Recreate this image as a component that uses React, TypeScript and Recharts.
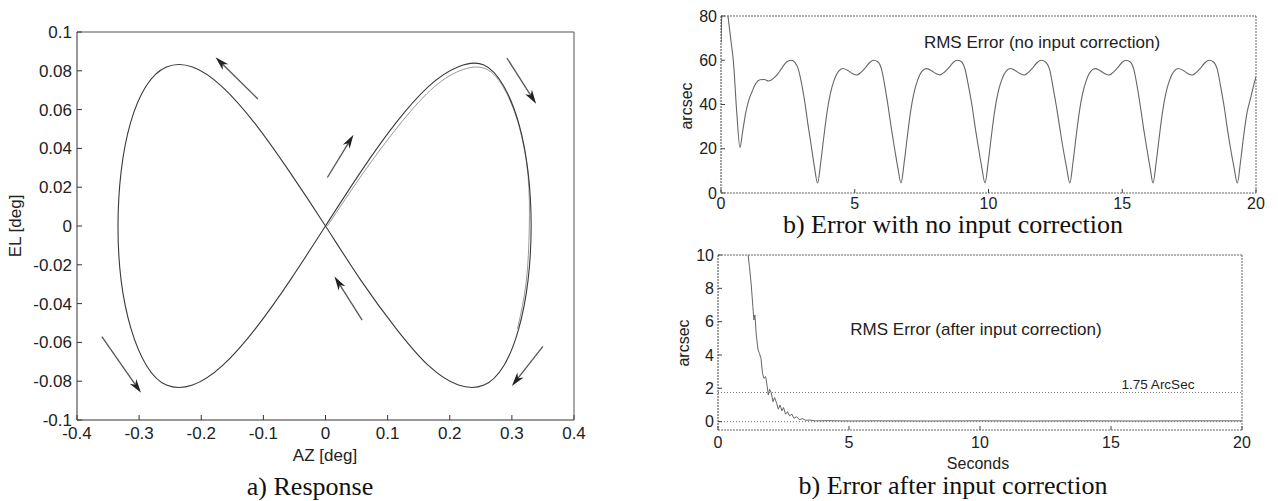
import React from 'react';
import { LineChart, Line, XAxis, YAxis, ReferenceLine } from 'recharts';

// a) Response: figure-eight path, AZ vs EL [deg]
const azPath = [
  0.0, 0.057, 0.113, 0.166, 0.213, 0.255, 0.287, 0.311, 0.326, 0.331,
  0.326, 0.311, 0.287, 0.255, 0.214, 0.166, 0.114, 0.057, 0.0,
  -0.058, -0.114, -0.167, -0.214, -0.256, -0.289, -0.314, -0.329, -0.334,
  -0.329, -0.313, -0.288, -0.256, -0.214, -0.166, -0.113, -0.057, 0.0,
];
const elPath = [
  0.0, 0.028, 0.053, 0.072, 0.082, 0.083, 0.072, 0.053, 0.028, 0.0,
  -0.028, -0.053, -0.072, -0.082, -0.082, -0.072, -0.053, -0.028, 0.0,
  0.028, 0.053, 0.072, 0.082, 0.082, 0.072, 0.053, 0.028, 0.0,
  -0.028, -0.053, -0.072, -0.082, -0.082, -0.072, -0.053, -0.028, 0.0,
];
// second pass over the right lobe (slightly off the first one)
const azPass2 = [0.003, 0.06, 0.116, 0.169, 0.216, 0.258, 0.289, 0.312, 0.326, 0.328, 0.323, 0.309];
const elPass2 = [0.0, 0.027, 0.051, 0.07, 0.08, 0.081, 0.07, 0.051, 0.026, -0.001, -0.029, -0.053];

const azTicks = [-0.4, -0.3, -0.2, -0.1, 0, 0.1, 0.2, 0.3, 0.4];
const elTicks = [-0.1, -0.08, -0.06, -0.04, -0.02, 0, 0.02, 0.04, 0.06, 0.08, 0.1];

// direction arrows, tail -> head
const arrowTails = [[-0.109, 0.0655], [0.003, 0.025], [0.292, 0.0866], [0.35, -0.062], [0.059, -0.0485], [-0.36, -0.057]];
const arrowHeads = [[-0.177, 0.087], [0.045, 0.047], [0.339, 0.063], [0.3, -0.0825], [0.0145, -0.026], [-0.297, -0.086]];

// b) Error with no input correction
const tNoCorr = [
  0, 0.04, 0.2, 0.3, 0.38, 0.46, 0.58, 0.71, 0.8, 0.92, 1.04, 1.15, 1.3, 1.46, 1.62, 1.78, 1.96, 2.1, 2.25, 2.45, 2.62, 2.76, 2.89, 3.02, 3.14, 3.25, 3.36, 3.49,
  3.61, 3.73, 3.85, 3.97, 4.09, 4.23, 4.39, 4.56, 4.73, 4.91, 5.07, 5.23, 5.39, 5.56, 5.71, 5.86, 6.01, 6.13, 6.25, 6.37, 6.49, 6.61,
  6.73, 6.85, 6.97, 7.09, 7.21, 7.35, 7.51, 7.68, 7.85, 8.03, 8.19, 8.35, 8.51, 8.68, 8.83, 8.98, 9.13, 9.25, 9.39, 9.51, 9.63, 9.75,
  9.87, 9.99, 10.11, 10.23, 10.35, 10.49, 10.65, 10.82, 10.99, 11.17, 11.33, 11.49, 11.65, 11.82, 11.97, 12.12, 12.29, 12.41, 12.54, 12.67, 12.79, 12.92,
  13.04, 13.16, 13.28, 13.4, 13.52, 13.66, 13.82, 13.99, 14.16, 14.34, 14.5, 14.66, 14.82, 14.99, 15.14, 15.29, 15.44, 15.56, 15.68, 15.8, 15.92, 16.04,
  16.15, 16.27, 16.39, 16.51, 16.63, 16.77, 16.93, 17.1, 17.27, 17.45, 17.61, 17.77, 17.93, 18.1, 18.25, 18.4, 18.56, 18.68, 18.81, 18.93, 19.05, 19.18,
  19.3, 19.42, 19.54, 19.66, 19.8, 19.92, 20,
];
const errNoCorr = [
  68, 82, 84, 76, 68, 60, 38, 20.5, 27, 36, 42, 45.5, 49.5, 51.2, 51.3, 50.6, 51.8, 53.5, 56, 59.2, 60, 59, 56, 49, 40.5, 31, 22.5, 12,
  4.5, 14, 26, 37, 45, 51, 55, 56.3, 55.5, 54, 53.3, 54.5, 56.5, 59, 60, 59.3, 55.5, 48, 39, 29, 20, 11.5,
  4.5, 14, 26, 37, 45, 51, 55, 56.2, 55.4, 54, 53.4, 54.6, 56.5, 59, 60, 59.4, 55.6, 48.5, 39, 29, 20, 11.5,
  4.5, 14, 26, 37, 45, 51, 55, 56.3, 55.4, 54, 53.3, 54.5, 56.5, 59, 60, 59.3, 55.5, 48, 39, 29, 20, 11.5,
  4.5, 14, 26, 37, 45, 51, 55, 56.2, 55.4, 54, 53.3, 54.5, 56.5, 59, 60, 59.3, 55.5, 48, 39, 29, 20, 11.5,
  4.5, 14, 26, 37, 45, 51, 55, 56.3, 55.5, 54, 53.3, 54.5, 56.5, 59, 60, 59.3, 55.5, 48, 39, 29, 20, 11.5,
  4.5, 14, 26, 36, 43, 49, 52.5,
];
const secTicks = [0, 5, 10, 15, 20];
const noCorrTicks = [0, 20, 40, 60, 80];

// b) Error after input correction
const tCorr = [
  1.15, 1.2, 1.27, 1.33, 1.37, 1.41, 1.46, 1.53, 1.58, 1.64, 1.7, 1.75, 1.82, 1.87, 1.92, 1.97, 2.03, 2.1, 2.16, 2.24,
  2.3, 2.37, 2.44, 2.5, 2.58, 2.65, 2.73, 2.82, 2.9, 3.0, 3.1, 3.22, 3.35, 3.5, 3.7, 4.2, 5, 6, 8, 10, 12, 14, 16, 18, 20,
];
const errCorr = [
  10, 9.3, 8.2, 6.9, 6.1, 6.4, 5.2, 4.3, 4.1, 3.8, 2.9, 2.6, 2.7, 2.2, 1.6, 1.95, 1.75, 1.2, 1.45, 1.1,
  0.75, 1.0, 0.65, 0.85, 0.45, 0.6, 0.35, 0.45, 0.2, 0.3, 0.12, 0.18, 0.08, 0.1, 0.05, 0.06, 0.04, 0.05, 0.04, 0.05, 0.04, 0.05, 0.04, 0.05, 0.05,
];
const corrTicks = [0, 2, 4, 6, 8, 10];
const corrLimit = 1.75;

const pathData = azPath.map((az, i) => ({ az, el: elPath[i] }));
const pass2Data = azPass2.map((az, i) => ({ az, el: elPass2[i] }));
const noCorrData = tNoCorr.map((t, i) => ({ t, v: errNoCorr[i] }));
const corrData = tCorr.map((t, i) => ({ t, v: errCorr[i] }));

const SANS = '"Liberation Sans", Arial, sans-serif';
const SERIF = '"Liberation Serif", "Times New Roman", serif';

const Arrow = (p: any) => {
  const { x1, y1, x2, y2 } = p;
  const a = Math.atan2(y2 - y1, x2 - x1);
  const c = Math.cos(a);
  const s = Math.sin(a);
  const bx = x2 - 14 * c;
  const by = y2 - 14 * s;
  const nx = x2 - 10 * c;
  const ny = y2 - 10 * s;
  return (
    <g>
      <line x1={x1} y1={y1} x2={nx} y2={ny} stroke="#555" strokeWidth={1.3} />
      <polygon
        points={`${x2},${y2} ${bx - 4 * s},${by + 4 * c} ${nx},${ny} ${bx + 4 * s},${by - 4 * c}`}
        fill="#222"
      />
    </g>
  );
};

const fmt = (v: number) => String(+v.toFixed(2));

export default function App() {
  const tickBig = { fill: '#222', fontSize: 17, fontFamily: SANS };
  const tickSmall = { fill: '#222', fontSize: 16, fontFamily: SANS };
  const dotted = { stroke: '#666', strokeDasharray: '2 1' };

  return (
    <div style={{ position: 'absolute', left: 0, top: 0, width: 1278, height: 501, background: '#fff' }}>
      {/* a) Response */}
      <div style={{ position: 'absolute', left: 0, top: 0 }}>
        <LineChart width={640} height={470} margin={{ top: 31, right: 65, bottom: 0, left: 0 }}>
          <XAxis xAxisId="b" type="number" dataKey="az" domain={[-0.4, 0.4]} ticks={azTicks} allowDataOverflow
            height={50} tickSize={-5} tickMargin={12} tickFormatter={fmt} tick={tickBig}
            axisLine={{ stroke: '#333' }} tickLine={{ stroke: '#333' }} />
          <XAxis xAxisId="t" orientation="top" type="number" domain={[-0.4, 0.4]} ticks={azTicks} allowDataOverflow
            height={1} tickSize={-5} tick={false} axisLine={{ stroke: '#555' }} tickLine={{ stroke: '#555' }} />
          <YAxis yAxisId="l" type="number" domain={[-0.1, 0.1]} ticks={elTicks} allowDataOverflow
            width={77} tickSize={-5} tickMargin={10} tickFormatter={fmt} tick={tickBig}
            axisLine={{ stroke: '#333' }} tickLine={{ stroke: '#333' }} />
          <YAxis yAxisId="r" orientation="right" type="number" domain={[-0.1, 0.1]} ticks={elTicks} allowDataOverflow
            width={1} tickSize={-5} tick={false} axisLine={{ stroke: '#555' }} tickLine={{ stroke: '#555' }} />
          <Line xAxisId="b" yAxisId="l" data={pass2Data} dataKey="el" type="natural" stroke="#999" strokeWidth={1}
            dot={false} activeDot={false} isAnimationActive={false} />
          <Line xAxisId="b" yAxisId="l" data={pathData} dataKey="el" type="natural" stroke="#3a3a3a" strokeWidth={1.1}
            dot={false} activeDot={false} isAnimationActive={false} />
          {arrowTails.map((tail, i) => (
            <ReferenceLine key={i} xAxisId="b" yAxisId="l" ifOverflow="visible"
              segment={[{ x: tail[0], y: tail[1] }, { x: arrowHeads[i][0], y: arrowHeads[i][1] }]}
              shape={<Arrow />} />
          ))}
        </LineChart>
      </div>

      {/* b) Error with no input correction */}
      <div style={{ position: 'absolute', left: 640, top: 0 }}>
        <LineChart width={638} height={250} margin={{ top: 15, right: 21, bottom: 32, left: 0 }}>
          <XAxis xAxisId="b" type="number" dataKey="t" domain={[0, 20]} ticks={secTicks} allowDataOverflow
            height={25} tickSize={-4} tickMargin={9} tick={tickSmall}
            axisLine={dotted} tickLine={{ stroke: '#444' }} />
          <XAxis xAxisId="t" orientation="top" type="number" domain={[0, 20]} ticks={secTicks} allowDataOverflow
            height={1} tickSize={-4} tick={false} axisLine={dotted} tickLine={{ stroke: '#666' }} />
          <YAxis yAxisId="l" type="number" domain={[0, 80]} ticks={noCorrTicks} allowDataOverflow
            width={81} tickSize={-4} tickMargin={8} tick={tickSmall}
            axisLine={{ stroke: '#444', strokeDasharray: '2 1' }} tickLine={{ stroke: '#444' }} />
          <YAxis yAxisId="r" orientation="right" type="number" domain={[0, 80]} ticks={noCorrTicks} allowDataOverflow
            width={1} tickSize={-4} tick={false} axisLine={dotted} tickLine={{ stroke: '#666' }} />
          <Line xAxisId="b" yAxisId="l" data={noCorrData} dataKey="v" type="monotone" stroke="#666" strokeWidth={1.1}
            dot={false} activeDot={false} isAnimationActive={false} />
        </LineChart>
      </div>

      {/* b) Error after input correction */}
      <div style={{ position: 'absolute', left: 640, top: 240 }}>
        <LineChart width={638} height={261} margin={{ top: 14, right: 35, bottom: 41, left: 0 }}>
          <XAxis xAxisId="b" type="number" dataKey="t" domain={[0, 20]} ticks={secTicks} allowDataOverflow
            height={30} tickSize={-4} tickMargin={11} tick={tickSmall}
            axisLine={dotted} tickLine={{ stroke: '#444' }} />
          <XAxis xAxisId="t" orientation="top" type="number" domain={[0, 20]} ticks={secTicks} allowDataOverflow
            height={1} tickSize={-4} tick={false} axisLine={dotted} tickLine={{ stroke: '#666' }} />
          <YAxis yAxisId="l" type="number" domain={[-0.5, 10]} ticks={corrTicks} allowDataOverflow
            width={78} tickSize={-4} tickMargin={8} tick={tickSmall}
            axisLine={{ stroke: '#444', strokeDasharray: '2 1' }} tickLine={{ stroke: '#444' }} />
          <YAxis yAxisId="r" orientation="right" type="number" domain={[-0.5, 10]} ticks={corrTicks} allowDataOverflow
            width={1} tickSize={-4} tick={false} axisLine={dotted} tickLine={{ stroke: '#666' }} />
          <ReferenceLine xAxisId="b" yAxisId="l" y={corrLimit} stroke="#777" strokeDasharray="1 2" />
          <ReferenceLine xAxisId="b" yAxisId="l" y={0} stroke="#777" strokeDasharray="1 2" />
          <Line xAxisId="b" yAxisId="l" data={corrData} dataKey="v" type="linear" stroke="#666" strokeWidth={1}
            dot={false} activeDot={false} isAnimationActive={false} />
        </LineChart>
      </div>

      {/* titles, axis labels and captions */}
      <svg width={1278} height={501} style={{ position: 'absolute', left: 0, top: 0, pointerEvents: 'none' }}>
        <g fontFamily={SANS} fill="#222">
          <text x={15} y={226} fontSize={17} textAnchor="middle" dominantBaseline="central" transform="rotate(-90 15 226)">EL [deg]</text>
          <text x={325} y={455} fontSize={17} textAnchor="middle" dominantBaseline="central">AZ [deg]</text>
          <text x={686} y={106} fontSize={16} textAnchor="middle" dominantBaseline="central" transform="rotate(-90 686 106)">arcsec</text>
          <text x={1042} y={42} fontSize={17} textAnchor="middle" dominantBaseline="central">RMS Error (no input correction)</text>
          <text x={683} y={343} fontSize={16} textAnchor="middle" dominantBaseline="central" transform="rotate(-90 683 343)">arcsec</text>
          <text x={976} y={329} fontSize={17} textAnchor="middle" dominantBaseline="central">RMS Error (after input correction)</text>
          <text x={1158} y={384} fontSize={13.5} textAnchor="middle" dominantBaseline="central">1.75 ArcSec</text>
          <text x={978} y={463} fontSize={16} textAnchor="middle" dominantBaseline="central">Seconds</text>
        </g>
        <g fontFamily={SERIF} fill="#111" fontSize={26} textAnchor="middle">
          <text x={310} y={495}>a) Response</text>
          <text x={953} y={233}>b) Error with no input correction</text>
          <text x={953} y={494}>b) Error after input correction</text>
        </g>
      </svg>
    </div>
  );
}
